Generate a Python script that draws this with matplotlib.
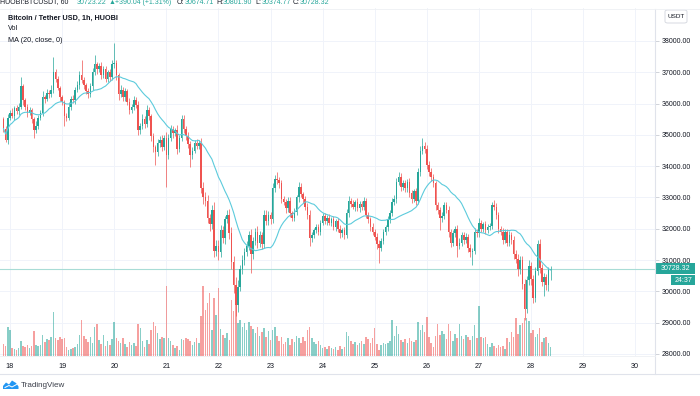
import numpy as np
import pandas as pd
import matplotlib
matplotlib.use("Agg")
import matplotlib.pyplot as plt
from matplotlib.lines import Line2D
from matplotlib.patches import Rectangle, FancyBboxPatch, Polygon

plt.rcParams['font.family'] = ['Liberation Sans', 'DejaVu Sans']

# --- data: BTC/USDT 1h candles, hours counted from the 18th 00:00 ---
first_hour = -3
first_open = 35500

close = [
    35200, 34850, 35550, 35700, 35600, 35850, 35750, 35900, 36550, 36100, 35900, 35700,
    35800, 35500, 35150, 35300, 35550, 35700, 36200, 36150, 36350, 36300, 36450, 37000,
    36800, 36500, 36200, 36050, 35600, 35550, 35900, 36150, 36100, 36450, 36600, 36900,
    36750, 36600, 36400, 36300, 36550, 37000, 37250, 37100, 37200, 36900, 37100, 36800,
    37000, 36850, 37250, 37300, 36900, 36300, 36450, 36200, 36400, 36050, 35800, 35900,
    36100, 35950, 35150, 35300, 35500, 35350, 35800, 35600, 34950, 34600, 34450, 34750,
    34850, 34600, 34900, 34350, 34900, 35200, 35050, 35150, 34550, 34900, 35500, 35200,
    34950, 34700, 34350, 34500, 34750, 34650, 34750, 33300, 33000, 32900, 32350, 32150,
    32600, 31300, 31450, 31250, 31950, 31700, 32300, 32450, 31850, 30950, 30200, 29550,
    30150, 30700, 31000, 31250, 31450, 31800, 31200, 31600, 31900, 31550, 31800, 31500,
    32450, 32250, 32450, 32300, 33300, 33600, 33550, 33450, 32950, 32850, 32650, 32900,
    32500, 32350, 32550, 33000, 33350, 33100, 32950, 32700, 32450, 31700, 31800, 31950,
    32050, 31900, 32200, 32400, 32250, 32350, 32200, 32300, 32050, 32250, 32000, 31850,
    31950, 31800, 32500, 32900, 32800, 32700, 32850, 32650, 32800, 32700, 32900, 32450,
    32300, 32050, 31900, 31750, 31500, 31400, 31600, 31900, 32050, 32300, 32500, 32850,
    32950, 33500, 33650, 33350, 33450, 33300, 33500, 33150, 32950, 33200, 32900, 33800,
    34500, 34650, 34550, 34050, 33800, 33650, 33450, 32750, 32600, 32350, 32400, 32750,
    32600, 31900, 31550, 31850, 32000, 31450, 31550, 31800, 31650, 31750, 31400, 31250,
    31300, 31900, 31850, 32200, 32000, 32150, 31950, 32050, 32100, 32750, 32700, 32450,
    32000, 31900, 31650, 31900, 31550, 31800, 31650, 31200, 31050, 30700, 31000, 30250,
    29450, 30350, 30800, 30400, 29800, 30650, 31500, 30750, 30300, 30450, 30200, 30674.71, 30728.32,
]

up_wick = [
    60, 90, 120, 80, 150, 70, 100, 110, 300, 60, 90, 80,
    100, 70, 60, 130, 90, 110, 200, 80, 120, 90, 150, 500,
    120, 80, 60, 90, 70, 100, 150, 80, 120, 90, 110, 130,
    500, 90, 70, 100, 120, 150, 300, 80, 100, 120, 90, 110,
    80, 120, 150, 640, 100, 70, 130, 90, 110, 80, 120, 90,
    150, 100, 120, 90, 160, 110, 140, 80, 70, 120, 90, 130,
    110, 150, 90, 200, 130, 120, 100, 80, 160, 110, 150, 120,
    90, 130, 100, 120, 80, 110, 90, 150, 200, 170, 180, 120,
    150, 250, 180, 200, 160, 130, 120, 140, 170, 200, 180, 250,
    200, 150, 170, 130, 160, 140, 200, 150, 120, 180, 130, 110,
    140, 160, 120, 100, 150, 130, 200, 110, 120, 90, 100, 130,
    100, 80, 120, 90, 150, 110, 90, 100, 120, 150, 100, 80,
    90, 110, 80, 120, 100, 90, 110, 80, 100, 70, 90, 110,
    80, 100, 120, 150, 90, 110, 80, 120, 90, 100, 110, 90,
    100, 80, 120, 90, 110, 150, 100, 90, 80, 110, 100, 120,
    140, 130, 150, 120, 110, 100, 90, 120, 100, 80, 110, 130,
    150, 250, 120, 140, 100, 130, 110, 90, 120, 100, 140, 110,
    100, 130, 90, 120, 100, 110, 150, 90, 100, 120, 80, 110,
    90, 120, 100, 130, 90, 80, 110, 100, 90, 120, 170, 110,
    100, 90, 120, 80, 100, 130, 90, 110, 120, 150, 130, 140,
    160, 130, 200, 150, 120, 140, 150, 180, 120, 130, 110, 100, 74,
]

low_wick = [
    100, 80, 150, 90, 60, 120, 80, 100, 70, 130, 90, 120,
    80, 110, 250, 90, 120, 70, 100, 130, 80, 110, 90, 120,
    100, 80, 130, 90, 300, 120, 70, 100, 90, 110, 80, 120,
    90, 130, 100, 120, 80, 110, 90, 150, 100, 120, 80, 110,
    100, 120, 90, 110, 150, 200, 90, 130, 110, 100, 120, 90,
    110, 80, 150, 120, 100, 130, 90, 110, 140, 160, 400, 120,
    130, 110, 90, 1010, 120, 100, 140, 90, 160, 110, 100, 130,
    110, 130, 380, 120, 90, 110, 100, 150, 200, 170, 180, 220,
    150, 200, 180, 250, 160, 140, 170, 130, 190, 220, 250, 350,
    200, 150, 130, 160, 120, 140, 600, 150, 130, 170, 120, 140,
    110, 130, 120, 140, 100, 130, 110, 150, 120, 100, 130, 110,
    120, 100, 90, 110, 130, 100, 120, 110, 150, 250, 120, 100,
    100, 90, 110, 80, 100, 120, 90, 110, 100, 120, 90, 130,
    100, 120, 90, 110, 100, 80, 120, 90, 110, 100, 90, 120,
    110, 130, 100, 120, 150, 500, 120, 100, 90, 110, 100, 90,
    100, 120, 110, 130, 100, 120, 110, 150, 120, 100, 130, 110,
    100, 120, 130, 150, 110, 120, 100, 140, 130, 390, 120, 100,
    110, 150, 130, 100, 120, 350, 110, 100, 120, 110, 130, 150,
    400, 120, 100, 110, 90, 100, 120, 100, 90, 110, 100, 130,
    120, 100, 130, 90, 110, 100, 120, 150, 130, 200, 150, 180,
    350, 150, 130, 200, 180, 130, 120, 160, 140, 450, 150, 180, 300,
]

volume = [
    1200, 1000, 2900, 2600, 800, 700, 600, 800, 1500, 1000, 900, 1100,
    800, 1000, 2500, 1100, 1000, 1100, 2100, 1400, 1700, 1600, 1900, 4400,
    1800, 1600, 1900, 1700, 1800, 900, 600, 700, 800, 900, 1200, 2100,
    3600, 2000, 1700, 1400, 1900, 1300, 2900, 3200, 1600, 1200, 2100, 1000,
    1500, 1100, 1700, 3400, 1800, 1500, 1300, 1800, 1200, 900, 1400, 1100,
    1300, 1000, 3200, 2800, 1500, 900, 1600, 1200, 2600, 3400, 3000, 2300,
    1700, 1900, 1800, 7000, 1800, 1500, 1100, 800, 1000, 600, 1700, 1600,
    1800, 1700, 1500, 1100, 1400, 1800, 1300, 4000, 7000, 4600, 5300, 6300,
    2600, 5800, 4100, 6800, 2700, 2100, 1800, 2300, 1600, 5600, 4500, 6000,
    3300, 3600, 2900, 3300, 2600, 3400, 3000, 2700, 2300, 2900, 2000, 2400,
    2800, 1900, 2500, 1600, 2600, 2900, 2000, 1500, 1900, 1200, 1400, 1800,
    1100, 1700, 1400, 2000, 1800, 1300, 1900, 1500, 2600, 2900, 1800, 1400,
    1200, 1500, 1100, 800, 900, 700, 1000, 800, 700, 900, 600, 1000,
    700, 900, 2400, 2000, 1500, 1200, 1400, 1100, 1300, 1500, 1200, 1900,
    1700, 1300, 1800, 2800, 1200, 600, 1100, 1300, 1200, 1300, 1500, 3600,
    2000, 3000, 2200, 1600, 1400, 1700, 1300, 1800, 1500, 1400, 1600, 3400,
    2600, 3100, 2400, 3900, 1900, 1300, 900, 2000, 3200, 2100, 2500, 2200,
    1700, 3200, 2500, 1500, 2200, 1800, 3200, 2000, 1700, 2100, 1900, 1600,
    2000, 3100, 1800, 5000, 1900, 1800, 1900, 1200, 900, 1300, 1000, 800,
    1100, 900, 1000, 700, 1800, 1400, 2400, 1900, 3800, 2200, 3100, 3300,
    3800, 3800, 3500, 2300, 2600, 1900, 2200, 2800, 1400, 1800, 1900, 1300, 900,
]

day_labels = ['18', '19', '20', '21', '22', '23', '24', '25', '26', '27', '28', '29', '30']
price_levels = [28000, 29000, 30000, 31000, 32000, 33000, 34000, 35000, 36000, 37000, 38000]
last_price = 30728.32

UP = '#26a69a'
DOWN = '#ef5350'
TXT = '#131722'
LINE = '#e0e3eb'

c = np.array(close, dtype=float)
o = np.r_[first_open, c[:-1]]
hi = np.maximum(o, c) + np.array(up_wick)
lo = np.minimum(o, c) - np.array(low_wick)
hours = np.arange(first_hour, first_hour + len(c))
up = c >= o
cols = np.where(up, UP, DOWN)
ma = pd.Series(c).rolling(20, min_periods=1).mean()

# --- layout in pixels ---
W, H = 700, 396
fig = plt.figure(figsize=(7, 3.96), dpi=100)
fig.patch.set_facecolor('white')

def fx(px):
    return px / W

def fy(py):
    return 1 - py / H

rect = [0, fy(356), fx(655), (356 - 8) / H]
ax_v = fig.add_axes(rect)
ax = fig.add_axes(rect)
ax.patch.set_alpha(0)

xlim = (-4.61, 297.1)
ylim = (27936, 39054)
for a in (ax, ax_v):
    a.set_xlim(*xlim)
    for s in a.spines.values():
        s.set_visible(False)
ax.set_ylim(*ylim)
ax_v.set_ylim(0, 34800)

# grid (drawn on the back axes)
day_ticks = [24 * i for i in range(len(day_labels))]
for d in day_ticks:
    ax_v.axvline(d, color='#f0f3fa', lw=0.7, zorder=0)
for p in price_levels:
    f = (p - ylim[0]) / (ylim[1] - ylim[0])
    ax_v.plot([0, 1], [f, f], transform=ax_v.transAxes, color='#f0f3fa', lw=0.7, zorder=0)
ax_v.set_xticks([])
ax_v.set_yticks([])

# volume
vcols = np.where(up, '#26a69a8c', '#ef53508c')
ax_v.bar(hours, volume, width=0.7, color=vcols, linewidth=0, zorder=2)

# candles
ax.vlines(hours, lo, hi, colors=cols, lw=0.5, zorder=3)
body = np.maximum(np.abs(c - o), 20)
ax.bar(hours, body, bottom=np.minimum(o, c), width=0.72, color=cols, linewidth=0, zorder=4)

ax.plot(hours, ma, color='#5ccbdc', lw=0.8, zorder=5)
ax.axhline(last_price, color='#a8dcd6', lw=0.8, zorder=2)

# axes ticks
ax.yaxis.tick_right()
ax.set_yticks(price_levels)
ax.set_yticklabels([f'{p:.2f}' for p in price_levels])
ax.tick_params(axis='y', right=True, left=False, length=3, width=0.6, color='#c9ccd3',
               pad=2, labelsize=5, labelcolor=TXT)
ax.set_xticks(day_ticks)
ax.set_xticklabels(day_labels)
ax.tick_params(axis='x', length=0, pad=5, labelsize=5.2, labelcolor=TXT)

# frame lines
fig.add_artist(Line2D([fx(655), fx(655)], [fy(8.5), fy(374)], color=LINE, lw=0.8))
fig.add_artist(Line2D([0, 1], [fy(374), fy(374)], color=LINE, lw=0.8))
fig.add_artist(Line2D([0, 1], [fy(8.5), fy(8.5)], color='#eef0f4', lw=0.6))
fig.add_artist(Line2D([0, fx(655)], [fy(356), fy(356)], color='#eef0f4', lw=0.6))

# header (cut by the top edge)
header = [
    (0, 'HUOBI:BTCUSDT, 60', TXT), (77, '30723.22', UP), (109, '\u25b2', UP),
    (115, '+390.04 (+1.31%)', UP), (177, 'O:', TXT), (185, '30674.71', UP),
    (216, 'H:', TXT), (223, '30801.90', UP), (255, 'L:', TXT), (262, '30374.77', UP),
    (293, 'C:', TXT), (300, '30728.32', UP),
]
for x0, t, col in header:
    fig.text(fx(x0), fy(3.5), t, color=col, fontsize=5.0, va='baseline', ha='left',
             family=['Liberation Sans', 'DejaVu Sans'])

# legend
fig.text(fx(8), fy(18), 'Bitcoin / Tether USD, 1h, HUOBI', color=TXT, fontsize=5.2,
         fontweight='bold', va='center', ha='left')
fig.text(fx(8), fy(29), 'Vol', color=TXT, fontsize=5.2, va='center', ha='left')
fig.text(fx(8), fy(40), 'MA (20, close, 0)', color=TXT, fontsize=5.2, va='center', ha='left')

# price scale extras
fig.add_artist(FancyBboxPatch((fx(665), fy(23)), fx(22), 13 / H,
                              boxstyle='round,pad=0,rounding_size=0.004',
                              ec='#d1d4dc', fc='white', lw=0.6))
fig.text(fx(676), fy(16.5), 'USDT', color=TXT, fontsize=4.6, ha='center', va='center')
fig.add_artist(Rectangle((fx(656), fy(274)), fx(39), 11 / H, fc=UP, ec='none'))
fig.text(fx(675.5), fy(268.5), '30728.32', color='white', fontsize=5, ha='center', va='center')
fig.add_artist(Rectangle((fx(671), fy(285)), fx(24), 10 / H, fc=UP, ec='none'))
fig.text(fx(683), fy(280), '24:37', color='white', fontsize=5, ha='center', va='center')

# TradingView mark
logo = [(3, 389), (3, 386), (6, 382.5), (9, 384.5), (12, 380.5), (16, 383), (18.5, 386.5), (18.5, 389)]
fig.add_artist(Polygon([(fx(a), fy(b)) for a, b in logo], closed=True, fc='#2196f3', ec='none'))
fig.add_artist(Line2D([fx(5), fx(9), fx(12), fx(16.5)], [fy(387.5), fy(385.5), fy(387), fy(384.5)],
                      color='white', lw=0.7))
fig.text(fx(21), fy(385.5), 'TradingView', color='#3b3f4a', fontsize=5.8, ha='left', va='center')

fig.savefig('out.png', dpi=100)
